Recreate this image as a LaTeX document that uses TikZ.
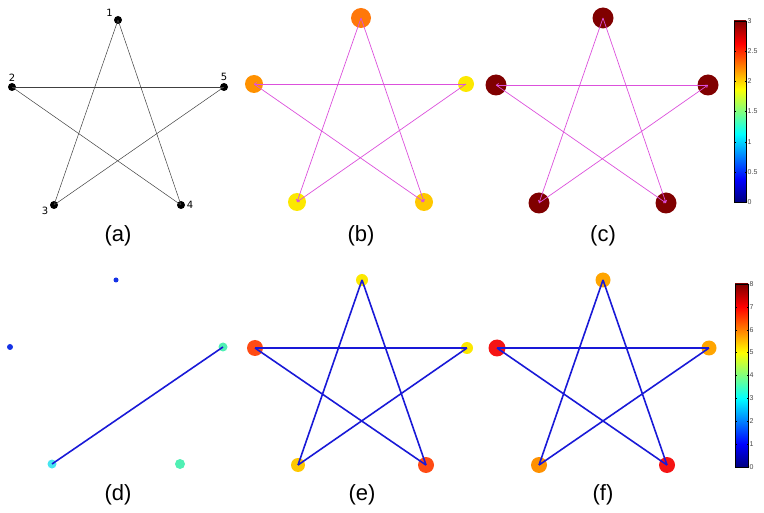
\documentclass[tikz,border=0pt]{standalone}
\usepackage{fontspec}
\setmainfont{Liberation Sans}
\newfontfamily\numfont{DejaVu Sans}
\usetikzlibrary{arrows.meta}

% jet colour map
\definecolor{jetA}{rgb}{0,0,0.5}
\definecolor{jetB}{rgb}{0,0,1}
\definecolor{jetC}{rgb}{0,1,1}
\definecolor{jetD}{rgb}{1,1,0}
\definecolor{jetE}{rgb}{1,0,0}
\definecolor{jetF}{rgb}{0.5,0,0}
\pgfdeclareverticalshading{jet}{100bp}{color(0bp)=(jetA); color(25bp)=(jetA); color(31.25bp)=(jetB); color(43.75bp)=(jetC); color(56.25bp)=(jetD); color(68.75bp)=(jetE); color(75bp)=(jetF); color(100bp)=(jetF)}

% node colours
\definecolor{darkred}{RGB}{128,0,0}
\definecolor{orangeA}{RGB}{255,120,10}
\definecolor{orangeB}{RGB}{255,145,0}
\definecolor{orangeC}{RGB}{255,165,0}
\definecolor{goldA}{RGB}{255,200,0}
\definecolor{yellowA}{RGB}{252,232,0}
\definecolor{redA}{RGB}{255,75,20}
\definecolor{redB}{RGB}{245,20,20}
\definecolor{blueA}{RGB}{20,50,230}
\definecolor{aquaA}{RGB}{80,240,180}
\definecolor{cyanA}{RGB}{70,230,240}
\definecolor{edgeM}{RGB}{220,80,220}
\definecolor{edgeB}{RGB}{25,25,215}
\definecolor{tickgray}{RGB}{70,70,70}

\begin{document}
\begin{tikzpicture}[x=1pt,y=-1pt,
    vtx/.style={circle, inner sep=0pt, minimum size=#1},
    vtx/.default=8pt,
    numlab/.style={font=\numfont\fontsize{10}{10}\selectfont, inner sep=1.5pt},
    caption/.style={font=\fontsize{22}{24}\selectfont},
    plainedge/.style={draw=black!75, line width=0.5pt},
    magedge/.style={draw=edgeM, line width=0.7pt, -{Straight Barb[length=2pt,width=3pt]}},
    blueedge/.style={draw=edgeB, line width=1.6pt},
    barlabel/.style={font=\fontsize{7}{7}\selectfont, text=tickgray, anchor=west, inner sep=1pt}]

    \useasboundingbox (0,0) rectangle (764,513);

    % (a): plain graph with numbers
    \node[vtx, fill=black, label={[numlab]150:1}] (a1) at (118,20) {};
    \node[vtx, fill=black, label={[numlab]90:2}] (a2) at (12,87) {};
    \node[vtx, fill=black, label={[numlab]190:3}] (a3) at (54,205) {};
    \node[vtx, fill=black, label={[numlab]0:4}] (a4) at (181,205) {};
    \node[vtx, fill=black, label={[numlab]90:5}] (a5) at (224,87) {};
    \foreach \s/\t in {1/3,1/4,2/5,2/4,3/5}
        \draw[plainedge] (a\s.center) -- (a\t.center);
    \node[caption] (capa) at (118,236) {(a)};

    % (b)
    \node[vtx=20pt, fill=orangeA] (b1) at (361,18) {};
    \node[vtx=18pt, fill=orangeB] (b2) at (254,84) {};
    \node[vtx=18pt, fill=yellowA] (b3) at (297,202) {};
    \node[vtx=18pt, fill=goldA] (b4) at (424,202) {};
    \node[vtx=16pt, fill=yellowA] (b5) at (466,84) {};
    \foreach \s/\t in {1/3,1/4,5/2,5/3,2/4}
        \draw[magedge] (b\s.center) -- (b\t.center);
    \node[caption] (capb) at (361,236) {(b)};

    % (c)
    \foreach \i/\p in {1/{(603,18)},2/{(496,85)},3/{(539,203)},4/{(666,203)},5/{(708,85)}}
        \node[vtx=21pt, fill=darkred] (c\i) at \p {};
    \foreach \s/\t in {1/3,1/4,5/2,3/5,2/4}
        \draw[magedge] (c\s.center) -- (c\t.center);
    \node[caption] (capc) at (603,236) {(c)};

    % colour bar, top row
    \shade[shading=jet] (734,21) rectangle (746,202);
    \draw[line width=0.5pt] (734,21) rectangle (746,202);
    \foreach \v [count=\k from 0] in {0,0.5,1,1.5,2,2.5,3} {
        \draw[line width=0.3pt] (734,{202-\k*181/6}) -- ++(1.5,0);
        \draw[line width=0.3pt] (746,{202-\k*181/6}) -- ++(-1.5,0);
        \node[barlabel] (ta\k) at (746.5,{202-\k*181/6}) {\v};
    }

    % (d)
    \node[vtx=5pt, fill=blueA] (d1) at (116,280) {};
    \node[vtx=6pt, fill=blueA] (d2) at (10,347) {};
    \node[vtx=9pt, fill=cyanA] (d3) at (52,464) {};
    \node[vtx=10pt, fill=aquaA] (d4) at (180,464) {};
    \node[vtx=9pt, fill=aquaA] (d5) at (223,347) {};
    \draw[blueedge] (d3.center) -- (d5.center);
    \node[caption] (capd) at (118,495) {(d)};

    % (e)
    \node[vtx=12pt, fill=yellowA] (e1) at (362,280) {};
    \node[vtx=16pt, fill=redA] (e2) at (255,348) {};
    \node[vtx=14pt, fill=goldA] (e3) at (298,465) {};
    \node[vtx=16pt, fill=redA] (e4) at (426,465) {};
    \node[vtx=12pt, fill=yellowA] (e5) at (467,348) {};
    \foreach \s/\t in {1/3,1/4,2/5,2/4,3/5}
        \draw[blueedge] (e\s.center) -- (e\t.center);
    \node[caption] (cape) at (362,495) {(e)};

    % (f)
    \node[vtx=15pt, fill=orangeC] (f1) at (603,280) {};
    \node[vtx=17pt, fill=redB] (f2) at (497,348) {};
    \node[vtx=16pt, fill=orangeB] (f3) at (539,465) {};
    \node[vtx=16pt, fill=redB] (f4) at (667,465) {};
    \node[vtx=15pt, fill=orangeC] (f5) at (709,348) {};
    \foreach \s/\t in {1/3,1/4,2/5,2/4,3/5}
        \draw[blueedge] (f\s.center) -- (f\t.center);
    \node[caption] (capf) at (603,495) {(f)};

    % colour bar, bottom row
    \shade[shading=jet] (735,284) rectangle (748,467);
    \draw[line width=0.5pt] (735,284) rectangle (748,467);
    \foreach \v in {0,...,8} {
        \draw[line width=0.3pt] (735,{467-\v*183/8}) -- ++(1.5,0);
        \draw[line width=0.3pt] (748,{467-\v*183/8}) -- ++(-1.5,0);
        \node[barlabel] (tb\v) at (748.5,{467-\v*183/8}) {\v};
    }

\end{tikzpicture}
\end{document}
